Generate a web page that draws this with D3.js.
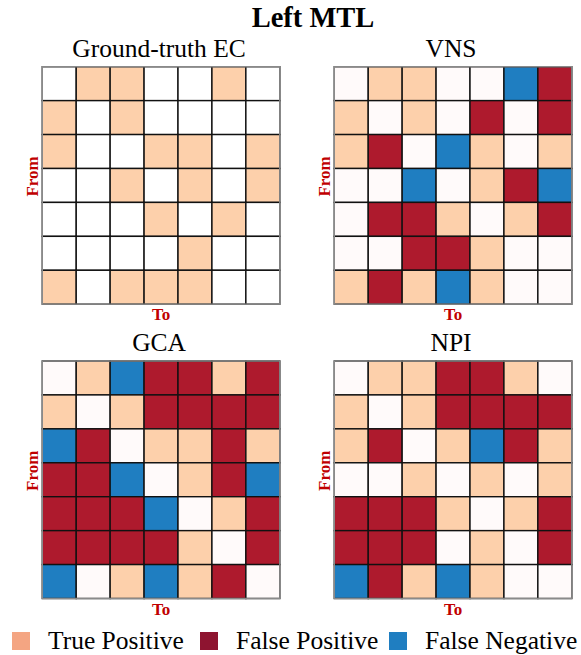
<!DOCTYPE html>
<html>
<head>
<meta charset="utf-8">
<script src="https://cdn.jsdelivr.net/npm/d3@7"></script>
<style>
  body { margin: 0; background: #fff; }
</style>
</head>
<body>
<div id="grafico"></div>
<script>
// 0 = no edge, 1 = true positive, 2 = false positive, 3 = false negative
const groundTruth = [
  [0, 1, 1, 0, 0, 1, 0],
  [1, 0, 1, 0, 0, 0, 0],
  [1, 0, 0, 1, 1, 0, 1],
  [0, 0, 1, 0, 1, 0, 1],
  [0, 0, 0, 1, 0, 1, 0],
  [0, 0, 0, 0, 1, 0, 0],
  [1, 0, 1, 1, 1, 0, 0]
];
const vns = [
  [0, 1, 1, 0, 0, 3, 2],
  [1, 0, 1, 0, 2, 0, 2],
  [1, 2, 0, 3, 1, 0, 1],
  [0, 0, 3, 0, 1, 2, 3],
  [0, 2, 2, 1, 0, 1, 2],
  [0, 0, 2, 2, 1, 0, 0],
  [1, 2, 1, 3, 1, 0, 0]
];
const gca = [
  [0, 1, 3, 2, 2, 1, 2],
  [1, 0, 1, 2, 2, 2, 2],
  [3, 2, 0, 1, 1, 2, 1],
  [2, 2, 3, 0, 1, 2, 3],
  [2, 2, 2, 3, 0, 1, 2],
  [2, 2, 2, 2, 1, 0, 2],
  [3, 0, 1, 3, 1, 2, 0]
];
const npi = [
  [0, 1, 1, 2, 2, 1, 0],
  [1, 0, 1, 2, 2, 2, 2],
  [1, 2, 0, 1, 3, 2, 1],
  [0, 0, 1, 0, 1, 0, 1],
  [2, 2, 2, 1, 0, 1, 2],
  [2, 2, 2, 0, 1, 0, 2],
  [3, 2, 1, 3, 1, 0, 0]
];
const panelTitles = ["Ground-truth EC", "VNS", "GCA", "NPI"];
const legendLabels = ["True Positive", "False Positive", "False Negative"];

const width = 581;
const height = 655;
const cellSize = 237.5 / 7;
const serif = "'Liberation Serif', 'Times New Roman', 'DejaVu Serif', serif";
const panels = [
  { title: panelTitles[0], data: groundTruth, x: 42.3, y: 66.7, empty: "#ffffff" },
  { title: panelTitles[1], data: vns,         x: 334.3, y: 66.7, empty: "#fffafa" },
  { title: panelTitles[2], data: gca,         x: 42.3, y: 361,  empty: "#fffafa" },
  { title: panelTitles[3], data: npi,         x: 334.3, y: 361,  empty: "#fffafa" }
];

const cellColor = ["#ffffff", "#fdd0ab", "#ae1a2d", "#1f7ec1"];
const legendColor = ["#f4a582", "#8e1430", "#1f7ec1"];

const svg = d3.select("#grafico")
              .append("svg")
              .attr("width", width)
              .attr("height", height)
              .attr("font-family", serif);

svg.append("text")
   .attr("x", 313)
   .attr("y", 27)
   .attr("font-size", "28.5px")
   .attr("font-weight", "bold")
   .style("text-anchor", "middle")
   .text("Left MTL");

const idx = d3.range(7);

panels.forEach(p => {
    const xScale = d3.scaleBand().domain(idx).range([0, 7 * cellSize]);
    const yScale = d3.scaleBand().domain(idx).range([0, 7 * cellSize]);

    const g = svg.append("g")
                 .attr("transform", `translate(${p.x}, ${p.y})`);

    const cells = [];
    p.data.forEach((row, i) => row.forEach((v, j) => cells.push({ i, j, v })));

    g.selectAll("rect.cell")
     .data(cells)
     .join("rect")
     .attr("class", "cell")
     .attr("x", d => xScale(d.j))
     .attr("y", d => yScale(d.i))
     .attr("width", xScale.bandwidth())
     .attr("height", yScale.bandwidth())
     .attr("fill", d => d.v === 0 ? p.empty : cellColor[d.v])
     .attr("stroke", "#111")
     .attr("stroke-width", 1.4);

    // outer frame
    g.append("rect")
     .attr("width", 7 * cellSize)
     .attr("height", 7 * cellSize)
     .attr("fill", "none")
     .attr("stroke", "#8a8a8a")
     .attr("stroke-width", 1.4);

    g.append("text")
     .attr("x", 7 * cellSize / 2 - 2)
     .attr("y", -10)
     .attr("font-size", "25.5px")
     .style("text-anchor", "middle")
     .text(p.title);

    g.append("text")
     .attr("x", 7 * cellSize / 2)
     .attr("y", 7 * cellSize + 16)
     .attr("font-size", "17px")
     .attr("font-weight", "bold")
     .attr("fill", "#c00000")
     .style("text-anchor", "middle")
     .text("To");

    g.append("text")
     .attr("transform", "rotate(-90)")
     .attr("x", -(7 * cellSize / 2) + 9)
     .attr("y", -4)
     .attr("font-size", "17px")
     .attr("font-weight", "bold")
     .attr("fill", "#c00000")
     .style("text-anchor", "middle")
     .text("From");
});

// legend
const legendX = [12, 200, 389];
const legend = svg.append("g")
                  .selectAll("g")
                  .data(legendLabels)
                  .join("g")
                  .attr("transform", (d, i) => `translate(${legendX[i]}, 632)`);

legend.append("rect")
      .attr("width", 18)
      .attr("height", 18)
      .attr("fill", (d, i) => legendColor[i]);

legend.append("text")
      .attr("x", 36)
      .attr("y", 17)
      .attr("font-size", "25.5px")
      .text(d => d);
</script>
</body>
</html>
